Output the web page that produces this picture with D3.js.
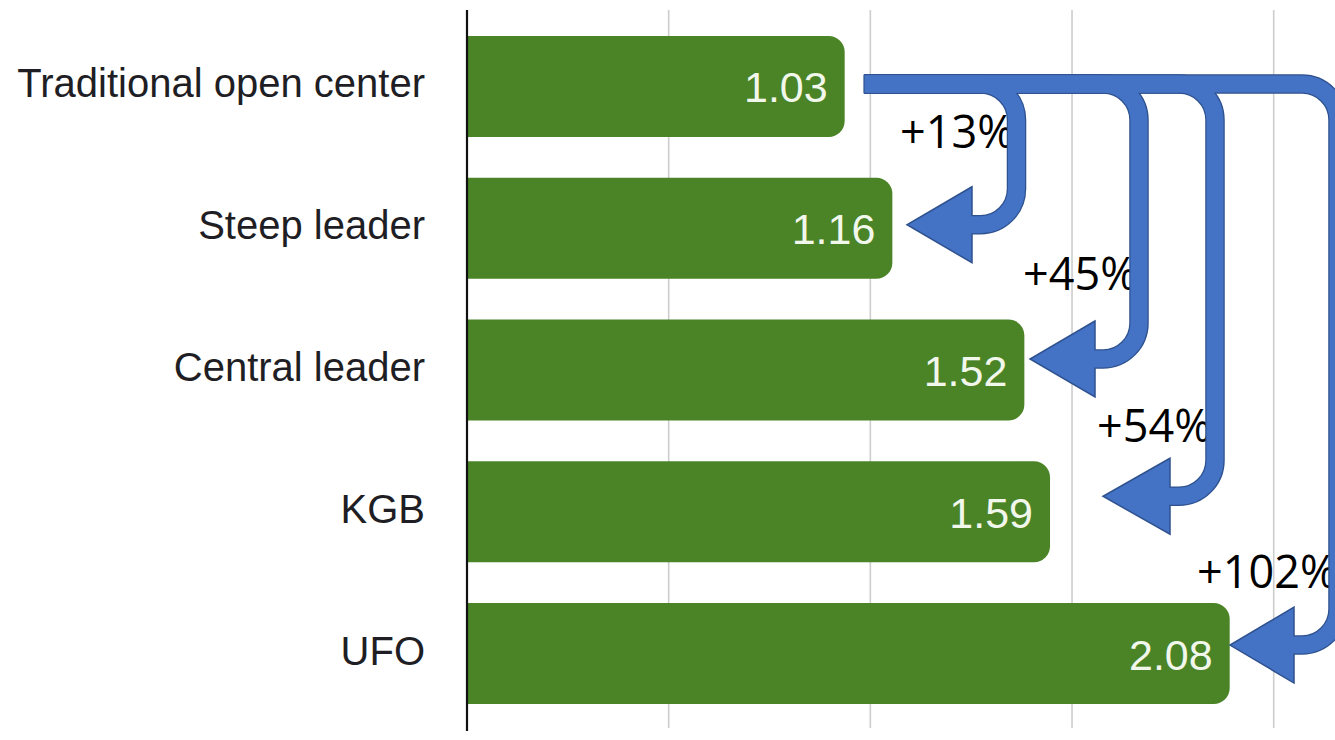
<!DOCTYPE html>
<html>
<head>
<meta charset="utf-8">
<script src="https://cdn.jsdelivr.net/npm/d3@7"></script>
<style>
  html, body { margin: 0; padding: 0; background: #ffffff; }
  svg { display: block; }
</style>
</head>
<body>
<svg id="chart" width="1335" height="740"></svg>
<script>
// ---- data ----
const categories = ["Traditional open center", "Steep leader", "Central leader", "KGB", "UFO"];
const values = [1.03, 1.16, 1.52, 1.59, 2.08];
const valueLabels = ["1.03", "1.16", "1.52", "1.59", "2.08"];
const gridTicks = [0.55, 1.1, 1.65, 2.2];
const arrowTargets = ["Steep leader", "Central leader", "KGB", "UFO"];
const pctLabels = ["+13%", "+45%", "+54%", "+102%"];

// ---- layout ----
const svg = d3.select("#chart");
const x = d3.scaleLinear().domain([0, 2.2]).range([467, 1273.7]);
const y = d3.scaleBand().domain(categories).range([15.6, 724.4])
  .paddingInner(0.2875).paddingOuter(0.14375);

// gridlines
svg.append("g").selectAll("line").data(gridTicks).join("line")
  .attr("x1", d => x(d)).attr("x2", d => x(d))
  .attr("y1", 10).attr("y2", 728)
  .attr("stroke", "#cdcdcd").attr("stroke-width", 1.6);

// bars with rounded right end
const r = 16;
function barPath(d, i) {
  const x0 = x(0), x1 = x(values[i]), y0 = y(categories[i]), h = y.bandwidth();
  return `M${x0},${y0} H${x1 - r} A${r},${r} 0 0 1 ${x1},${y0 + r} V${y0 + h - r} A${r},${r} 0 0 1 ${x1 - r},${y0 + h} H${x0} Z`;
}
svg.append("g").selectAll("path").data(values).join("path")
  .attr("d", barPath)
  .attr("fill", "#4a8427");

// value labels
svg.append("g").selectAll("text").data(values).join("text")
  .attr("x", d => x(d) - 17)
  .attr("y", (d, i) => y(categories[i]) + y.bandwidth() / 2 + 1)
  .attr("text-anchor", "end")
  .attr("dominant-baseline", "central")
  .attr("font-family", "Liberation Sans, Arial, sans-serif")
  .attr("font-size", 43)
  .attr("fill", "#f2f7ec")
  .text((d, i) => valueLabels[i]);

// category labels
svg.append("g").selectAll("text").data(categories).join("text")
  .attr("x", 425)
  .attr("y", d => y(d) + y.bandwidth() / 2 - 3)
  .attr("text-anchor", "end")
  .attr("dominant-baseline", "central")
  .attr("font-family", "Liberation Sans, Arial, sans-serif")
  .attr("font-size", 40)
  .attr("fill", "#1e1e24")
  .text(d => d);

// axis line
svg.append("line")
  .attr("x1", 467).attr("x2", 467).attr("y1", 10).attr("y2", 731)
  .attr("stroke", "#111").attr("stroke-width", 2.2);

// percentage labels (under the arrows)
const pctPos = [[900, 148], [1023, 290], [1097, 442], [1197, 588]];
svg.append("g").selectAll("text").data(pctLabels).join("text")
  .attr("x", (d, i) => pctPos[i][0])
  .attr("y", (d, i) => pctPos[i][1])
  .attr("font-family", "Open Sans, Noto Sans, sans-serif")
  .attr("font-size", 45)
  .attr("fill", "#000")
  .text(d => d);

// arrows (annotation geometry)
const arrowGeom = [
  { vx: 1016.5, dy: -3.5, backX: 972, tipX: 907 },
  { vx: 1139, dy: -11, backX: 1095, tipX: 1030 },
  { vx: 1215, dy: -15.5, backX: 1170, tipX: 1103 },
  { vx: 1338, dy: -8.5, backX: 1294, tipX: 1230 }
];
const topY = 84, startX = 864, ar = 36, headHalf = 38;
const arrows = arrowTargets.map((t, i) => {
  const g = arrowGeom[i];
  const ty = y(t) + y.bandwidth() / 2 + g.dy;
  return { ...g, ty };
});
function shaft(a, ext) {
  return `M${startX},${topY} H${a.vx - ar} A${ar},${ar} 0 0 1 ${a.vx},${topY + ar} V${a.ty - ar} A${ar},${ar} 0 0 1 ${a.vx - ar},${a.ty} H${a.backX - ext}`;
}
function head(a) {
  return `M${a.backX},${a.ty - headHalf} L${a.tipX},${a.ty} L${a.backX},${a.ty + headHalf} Z`;
}
const ag = svg.append("g");
// outlines
ag.selectAll("path.o").data(arrows).join("path").attr("class", "o")
  .attr("d", d => shaft(d, 0)).attr("fill", "none")
  .attr("stroke", "#2f528f").attr("stroke-width", 19.5);
ag.selectAll("path.ho").data(arrows).join("path").attr("class", "ho")
  .attr("d", head).attr("fill", "#4472c4")
  .attr("stroke", "#2f528f").attr("stroke-width", 1.5).attr("stroke-linejoin", "miter");
// fills
ag.selectAll("path.f").data(arrows).join("path").attr("class", "f")
  .attr("d", d => shaft(d, 2)).attr("fill", "none")
  .attr("stroke", "#4472c4").attr("stroke-width", 17);
// left end outline
ag.append("line").attr("x1", startX).attr("x2", startX)
  .attr("y1", topY - 9.5).attr("y2", topY + 9.5)
  .attr("stroke", "#2f528f").attr("stroke-width", 1.2);
</script>
</body>
</html>
